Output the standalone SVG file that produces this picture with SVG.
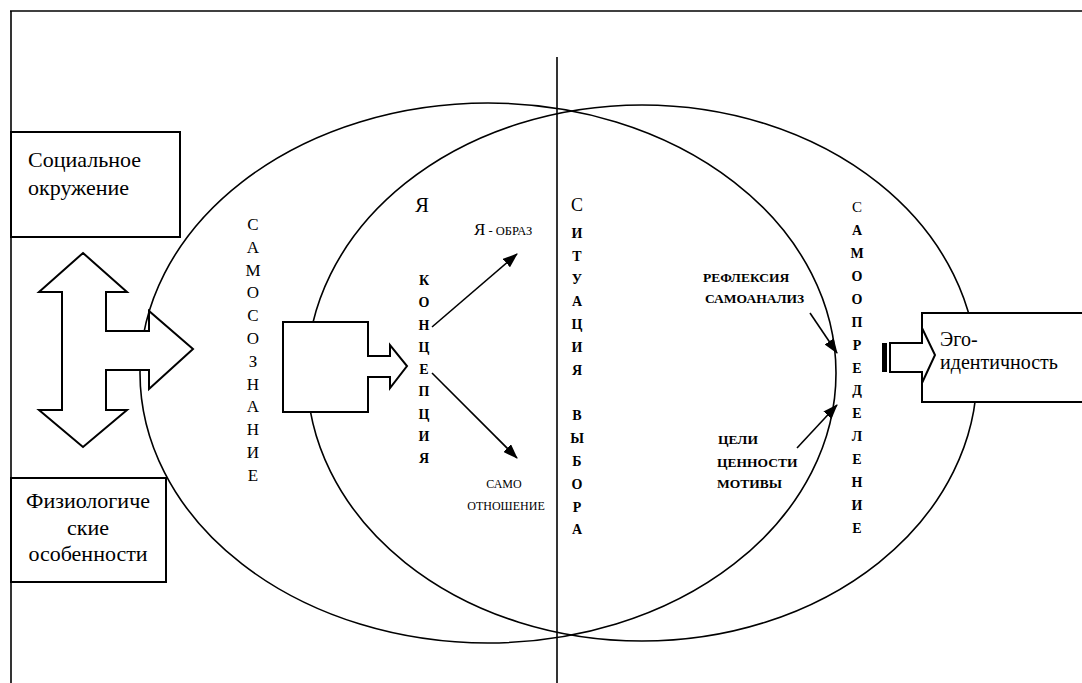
<svg xmlns="http://www.w3.org/2000/svg" width="1082" height="683" viewBox="0 0 1082 683" font-family="'Liberation Serif', 'Times New Roman', serif">
<style>
text{font-family:'Liberation Serif','Times New Roman',serif;fill:#000}
.ln{fill:none;stroke:#000;stroke-width:1.6}
.box{fill:#fff;stroke:#000;stroke-width:2}
.big{font-size:22px}
.vs{font-size:17px;text-anchor:middle}
.vb{font-size:14px;font-weight:bold;text-anchor:middle}
.lb{font-size:13.5px;font-weight:bold}
.sm{font-size:12px}
.con{stroke:#000;stroke-width:1.6;fill:none;marker-end:url(#ah)}
</style>
<defs>
<marker id="ah" markerUnits="userSpaceOnUse" markerWidth="15" markerHeight="11" refX="14" refY="5.5" orient="auto">
<path d="M0,0 L15,5.5 L0,11 Z" fill="#000"/>
</marker>
</defs>
<rect width="1082" height="683" fill="#fff"/>
<g id="frame">
<line x1="10" y1="11" x2="1082" y2="11" class="ln" stroke-width="2"/>
<line x1="11" y1="11" x2="11" y2="683" class="ln" stroke-width="2"/>
<line x1="557" y1="57" x2="557" y2="683" class="ln" stroke-width="2"/>
</g>
<g id="circles">
<ellipse cx="488" cy="373" rx="348" ry="270" class="ln"/>
<ellipse cx="642" cy="373" rx="335" ry="268" class="ln"/>
</g>
<g id="social">
<rect x="11" y="132" width="169" height="105" class="box"/>
<text class="big" x="28" y="167">Социальное</text>
<text class="big" x="28" y="195">окружение</text>
</g>
<g id="physio">
<rect x="11" y="478" width="155" height="104" class="box"/>
<text class="big" font-size="21" x="88" y="508" text-anchor="middle">Физиологиче</text>
<text class="big" font-size="21" x="88" y="535" text-anchor="middle">ские</text>
<text class="big" font-size="21" x="88" y="561" text-anchor="middle">особенности</text>
</g>
<g id="double-arrow">
<path d="M83,253 L127,292 H106 V331 H149 V311 L193,349 L149,389 V370 H106 V410 H127 L83,447 L39,410 H62 V292 H39 Z" class="box"/>
</g>
<g id="samosoznanie">
<text class="vs"><tspan x="253" y="230">С</tspan><tspan x="253" y="252.8">А</tspan><tspan x="253" y="275.6">М</tspan><tspan x="253" y="298.4">О</tspan><tspan x="253" y="321.2">С</tspan><tspan x="253" y="344">О</tspan><tspan x="253" y="366.8">З</tspan><tspan x="253" y="389.6">Н</tspan><tspan x="253" y="412.4">А</tspan><tspan x="253" y="435.2">Н</tspan><tspan x="253" y="458">И</tspan><tspan x="253" y="480.8">Е</tspan></text>
</g>
<g id="square-arrow">
<path d="M283,322 H368 V356 H390 V345 L407,366 L390,388 V377 H368 V412 H283 Z" class="box"/>
</g>
<g id="ya-koncepcia">
<text x="415" y="212" font-size="21">Я</text>
<text class="vb"><tspan x="424" y="285">К</tspan><tspan x="424" y="307">О</tspan><tspan x="424" y="329.5">Н</tspan><tspan x="424" y="352">Ц</tspan><tspan x="424" y="374">Е</tspan><tspan x="424" y="396">П</tspan><tspan x="424" y="418.5">Ц</tspan><tspan x="424" y="441">И</tspan><tspan x="424" y="463">Я</tspan></text>
</g>
<g id="ya-obraz">
<text x="474" y="235"><tspan font-size="17">Я</tspan><tspan font-size="12.5"> - ОБРАЗ</tspan></text>
</g>
<g id="samootnoshenie">
<text class="sm" x="504" y="488" text-anchor="middle">САМО</text>
<text class="sm" x="506" y="510" text-anchor="middle">ОТНОШЕНИЕ</text>
</g>
<g id="situacia">
<text class="vb"><tspan x="577" y="211" font-size="18" font-weight="normal">С</tspan><tspan x="577" y="238">И</tspan><tspan x="577" y="260.8">Т</tspan><tspan x="577" y="283.6">У</tspan><tspan x="577" y="306.4">А</tspan><tspan x="577" y="329.2">Ц</tspan><tspan x="577" y="352">И</tspan><tspan x="577" y="374.8">Я</tspan><tspan x="577" y="420.4">В</tspan><tspan x="577" y="443.2">Ы</tspan><tspan x="577" y="466">Б</tspan><tspan x="577" y="488.8">О</tspan><tspan x="577" y="511.6">Р</tspan><tspan x="577" y="534.4">А</tspan></text>
</g>
<g id="refleksia">
<text class="lb" x="703" y="282">РЕФЛЕКСИЯ</text>
<text class="lb" x="705" y="303">САМОАНАЛИЗ</text>
</g>
<g id="celi">
<text class="lb" x="718" y="444">ЦЕЛИ</text>
<text class="lb" x="717" y="467">ЦЕННОСТИ</text>
<text class="lb" x="717" y="488">МОТИВЫ</text>
</g>
<g id="samoopredelenie">
<text class="vb"><tspan x="857" y="212" font-weight="normal" font-size="15">С</tspan><tspan x="857" y="234.9">А</tspan><tspan x="857" y="257.9">М</tspan><tspan x="857" y="280.8">О</tspan><tspan x="857" y="303.7">О</tspan><tspan x="857" y="326.7">П</tspan><tspan x="857" y="349.6">Р</tspan><tspan x="857" y="372.5">Е</tspan><tspan x="857" y="395.4">Д</tspan><tspan x="857" y="418.4">Е</tspan><tspan x="857" y="441.3">Л</tspan><tspan x="857" y="464.2">Е</tspan><tspan x="857" y="487.2">Н</tspan><tspan x="857" y="510.1">И</tspan><tspan x="857" y="533">Е</tspan></text>
</g>
<g id="ego">
<rect x="922" y="313" width="170" height="89" class="box"/>
<rect x="882" y="343" width="5" height="29" fill="#000"/>
<path d="M890,343 H922 V328 L935,355 L922,383 V372 H890 Z" class="box" stroke-width="1.8"/>
<text x="940" y="346" font-size="20">Эго-</text>
<text x="940" y="369" font-size="20">идентичность</text>
</g>
<g id="connectors">
<line x1="432" y1="327" x2="517" y2="254" class="con"/>
<line x1="432" y1="373" x2="517" y2="458" class="con"/>
<line x1="810" y1="313" x2="837" y2="353" class="con"/>
<line x1="797" y1="448" x2="837" y2="405" class="con"/>
</g>
</svg>
